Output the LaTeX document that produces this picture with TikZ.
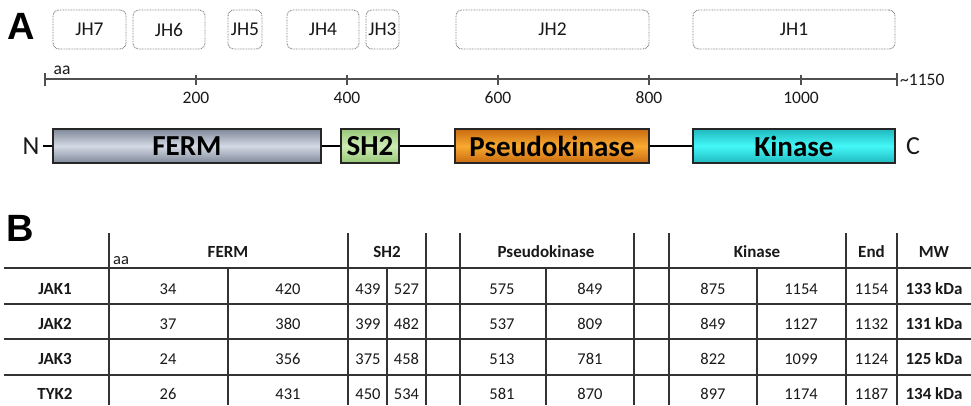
\documentclass[tikz,border=0pt]{standalone}
\usepackage{fontspec}
\setmainfont{Carlito}
\newfontfamily\bigfont{Liberation Sans}
\definecolor{axisgray}{HTML}{505050}
\definecolor{fermtop}{HTML}{7F889A}
\definecolor{fermmid}{HTML}{D4DAE4}
\definecolor{sh2top}{HTML}{98C878}
\definecolor{sh2mid}{HTML}{CDEBB5}
\definecolor{pktop}{HTML}{C86A10}
\definecolor{pkmid}{HTML}{F9AA30}
\definecolor{kintop}{HTML}{1FB8BE}
\definecolor{kinmid}{HTML}{45F8F8}
\tikzset{
  jh/.style={draw=gray, dash pattern=on 0.8pt off 0.8pt, rounded corners=6pt,
    line width=0.9pt, inner sep=0pt, minimum height=39pt,
    font=\fontsize{19.5}{22}\selectfont, text=black!90},
  dom/.style={draw=black!85, line width=1.4pt, inner sep=0pt, minimum height=34pt,
    font=\fontsize{29}{32}\selectfont\bfseries},
  link/.style={line width=2pt, black},
  tick/.style={line width=1.3pt, axisgray},
  ticklab/.style={font=\fontsize{17.5}{20}\selectfont, text=black!90},
  tline/.style={line width=1.3pt, black!80},
  tv/.style={font=\fontsize{16.5}{19}\selectfont, text=black!90},
  th/.style={font=\fontsize{17}{20}\selectfont\bfseries, text=black!90},
  panel/.style={font=\fontsize{38}{42}\bigfont\bfseries},
}
\begin{document}
\begin{tikzpicture}[x=1pt,y=-1pt]
\useasboundingbox (0,0) rectangle (971,405);

% panel letters
\node[panel] (lA) at (21.5,26) {A};
\node[panel] (lB) at (20,228) {B};

% JH boxes
\node[jh, minimum width=73pt] (jh7) at (89.5,29.5) {JH7};
\node[jh, minimum width=72pt] (jh6) at (169,29.5) {JH6};
\node[jh, minimum width=34pt] (jh5) at (245,29.5) {JH5};
\node[jh, minimum width=72pt] (jh4) at (323,29.5) {JH4};
\node[jh, minimum width=33pt] (jh3) at (382.5,29.5) {JH3};
\node[jh, minimum width=193pt] (jh2) at (552.5,29.5) {JH2};
\node[jh, minimum width=202pt] (jh1) at (794,29.5) {JH1};

% axis
\coordinate (ax0) at (45,79);
\coordinate (ax1) at (897,79);
\draw[line width=1.8pt, axisgray] (ax0) -- (ax1);
\draw[tick] (45,73) -- (45,86);
\draw[tick] (897,73) -- (897,86);
\foreach \xx/\lab in {196/200,347/400,498/600,649/800,801/1000}{
  \draw[tick] (\xx,74.5) -- (\xx,85);
  \node[ticklab] (t\lab) at (\xx,98) {\lab};
}
\node[ticklab, anchor=base west, inner sep=0pt] (aa) at (53.5,74) {aa};
\node[ticklab, anchor=west, inner sep=0pt] (end) at (900,80) {\textasciitilde1150};

% domains
\node[font=\fontsize{26}{30}\selectfont, text=black!90, anchor=east, inner sep=0pt] (nterm) at (39.5,146) {N};
\node[font=\fontsize{26}{30}\selectfont, text=black!90, inner sep=0pt] (cterm) at (913,146) {C};
\node[dom, minimum width=268pt, top color=fermtop, bottom color=fermtop, middle color=fermmid] (ferm) at (187,146) {FERM};
\node[dom, minimum width=58pt, top color=sh2top, bottom color=sh2top, middle color=sh2mid] (sh2) at (370,146) {SH2};
\node[dom, minimum width=194pt, top color=pktop, bottom color=pktop, middle color=pkmid] (pk) at (552,146) {Pseudokinase};
\node[dom, minimum width=202pt, top color=kintop, bottom color=kintop, middle color=kinmid] (kin) at (794,146) {Kinase};
\draw[link] ([xshift=3.5pt]nterm.east) -- (ferm.west);
\draw[link] (ferm.east) -- (sh2.west);
\draw[link] (sh2.east) -- (pk.west);
\draw[link] (pk.east) -- (kin.west);

% table lines
\foreach \yy in {268,304,339,375}{
  \draw[tline] (4,\yy) -- (971,\yy);
}
\foreach \xx in {109,348,426,460,634,669,846,897}{
  \draw[tline] (\xx,233) -- (\xx,405);
}
\foreach \xx in {228,387,546,757}{
  \draw[tline] (\xx,268) -- (\xx,405);
}

% header
\node[tv, anchor=base west, inner sep=0pt] (haa) at (113,264) {aa};
\node[th] (hferm) at (228,252) {FERM};
\node[th] (hsh2) at (387,252) {SH2};
\node[th] (hpk) at (546,252) {Pseudokinase};
\node[th] (hkin) at (757,252) {Kinase};
\node[th] (hend) at (871.5,252) {End};
\node[th] (hmw) at (934,252) {MW};

% rows
\foreach \yy/\nm/\a/\b/\c/\d/\e/\f/\g/\h/\en/\mw in {
  289/JAK1/34/420/439/527/575/849/875/1154/1154/133,
  324/JAK2/37/380/399/482/537/809/849/1127/1132/131,
  359/JAK3/24/356/375/458/513/781/822/1099/1124/125,
  394/TYK2/26/431/450/534/581/870/897/1174/1187/134}{
  \node[th] (r\nm) at (55,\yy) {\nm};
  \node[tv] (r\nm a) at (168,\yy) {\a};
  \node[tv] (r\nm b) at (288,\yy) {\b};
  \node[tv] (r\nm c) at (368,\yy) {\c};
  \node[tv] (r\nm d) at (406.5,\yy) {\d};
  \node[tv] (r\nm e) at (502,\yy) {\e};
  \node[tv] (r\nm f) at (590,\yy) {\f};
  \node[tv] (r\nm g) at (713,\yy) {\g};
  \node[tv] (r\nm h) at (801,\yy) {\h};
  \node[tv] (r\nm i) at (871.5,\yy) {\en};
  \node[th] (r\nm j) at (934,\yy) {\mw{} kDa};
}
\end{tikzpicture}
\end{document}
